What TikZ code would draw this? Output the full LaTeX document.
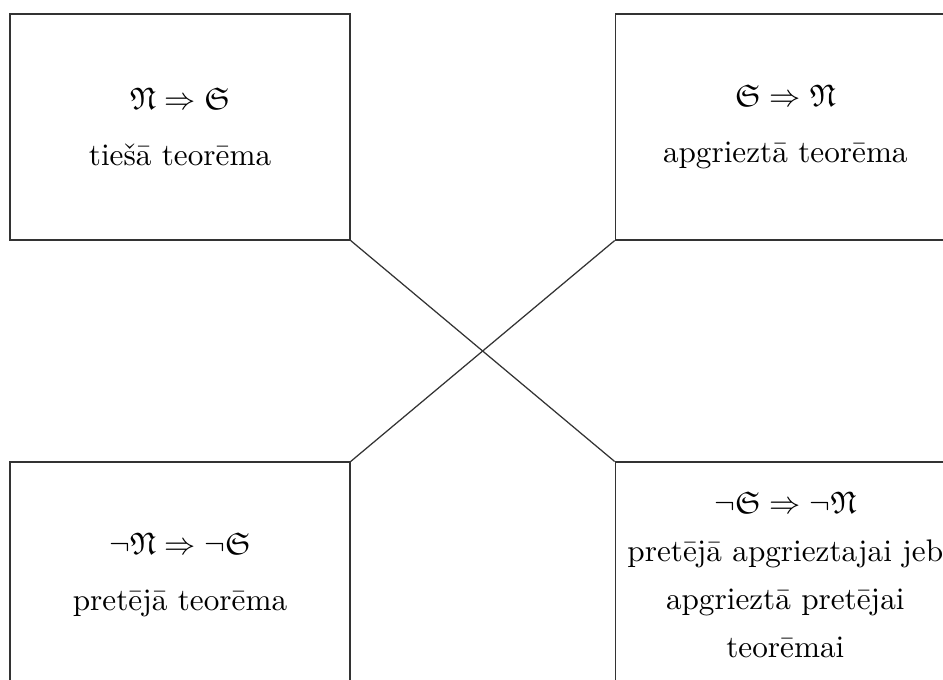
\documentclass[tikz,border=0pt]{standalone}
\usepackage{fontspec}
\usepackage{amssymb}
\usetikzlibrary{positioning}
\tikzset{
  thmbox/.style={
    rectangle, draw=black!80,
    minimum width=109pt, minimum height=72.4pt,
    inner sep=0pt, align=center
  },
  link/.style={black!80}
}
\begin{document}
\begin{tikzpicture}[x=0.3205pt, y=-0.3205pt, node distance=70.8pt and 84.6pt]
  \useasboundingbox (0,0) rectangle (943,680);

  % Theorems
  \node[thmbox] (direct) at (180,127) {%
    $\mathfrak{N}\Rightarrow\mathfrak{S}$\\[6pt]
    tiešā teorēma};

  \node[thmbox, right=of direct] (converse) {%
    $\mathfrak{S}\Rightarrow\mathfrak{N}$\\[6pt]
    apgrieztā teorēma};

  \node[thmbox, below=of direct] (inverse) {%
    $\neg\mathfrak{N}\Rightarrow\neg\mathfrak{S}$\\[6pt]
    pretējā teorēma};

  \node[thmbox, below=of converse] (contra) {%
    $\neg\mathfrak{S}\Rightarrow\neg\mathfrak{N}$\\[3.4pt]
    pretējā apgrieztajai jeb\\[3.4pt]
    apgrieztā pretējai\\[3.4pt]
    teorēmai};

  % Cross links
  \draw[link] (direct.south east) -- (contra.north west);
  \draw[link] (converse.south west) -- (inverse.north east);

\end{tikzpicture}
\end{document}
